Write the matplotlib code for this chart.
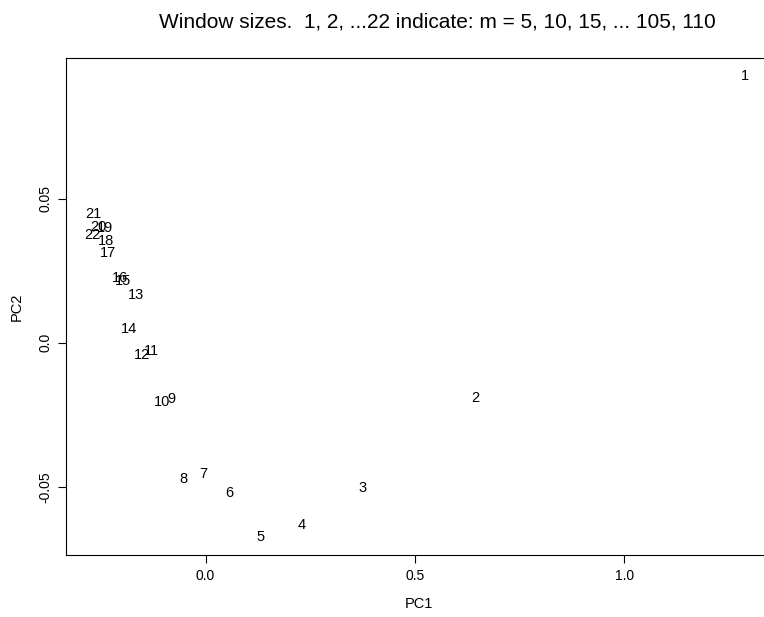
import matplotlib
matplotlib.use("Agg")
import matplotlib.pyplot as plt

labels = [str(i) for i in range(1, 23)]
pc1 = [1.288, 0.645, 0.374, 0.229, 0.131, 0.057, -0.005, -0.052, -0.082, -0.103,
       -0.129, -0.152, -0.166, -0.183, -0.198, -0.205, -0.233, -0.238, -0.240, -0.255,
       -0.268, -0.271]
pc2 = [0.0924, -0.0190, -0.0503, -0.0631, -0.0672, -0.0521, -0.0455, -0.0472, -0.0195, -0.0206,
       -0.0030, -0.0041, 0.0166, 0.0049, 0.0216, 0.0225, 0.0311, 0.0354, 0.0397, 0.0403,
       0.0446, 0.0375]
xticks = [0.0, 0.5, 1.0]
xticklabels = ["0.0", "0.5", "1.0"]
yticks = [-0.05, 0.0, 0.05]
yticklabels = ["-0.05", "0.0", "0.05"]

plt.rcParams['font.family'] = ['Liberation Sans', 'DejaVu Sans']
fig = plt.figure(figsize=(7.64, 6.17), dpi=100)
ax = fig.add_axes([66/764, 1-555/617, (771-66)/764, (555-58)/617])

for lab, x, y in zip(labels, pc1, pc2):
    ax.text(x, y, lab, ha='center', va='center', fontsize=10.5)

xr = max(pc1) - min(pc1)
yr = max(pc2) - min(pc2)
ax.set_xlim(min(pc1) - 0.04*xr, max(pc1) + 0.04*xr)
ax.set_ylim(min(pc2) - 0.04*yr, max(pc2) + 0.04*yr)

ax.set_xticks(xticks)
ax.set_xticklabels(xticklabels)
ax.set_yticks(yticks)
ax.set_yticklabels(yticklabels, rotation=90, va='center')
ax.tick_params(direction='out', length=6, width=0.8, labelsize=10)
ax.tick_params(axis='x', pad=4)
ax.tick_params(axis='y', pad=4)
for s in ax.spines.values():
    s.set_linewidth(0.8)

ax.set_xlabel("PC1", fontsize=10.5, labelpad=10)
ax.set_ylabel("PC2", fontsize=10.5, labelpad=10)
fig.text(437/764, 1-22/617, "Window sizes.  1, 2, ...22 indicate: m = 5, 10, 15, ... 105, 110",
         ha='center', va='center', fontsize=15)

fig.savefig("out.png", dpi=100)
